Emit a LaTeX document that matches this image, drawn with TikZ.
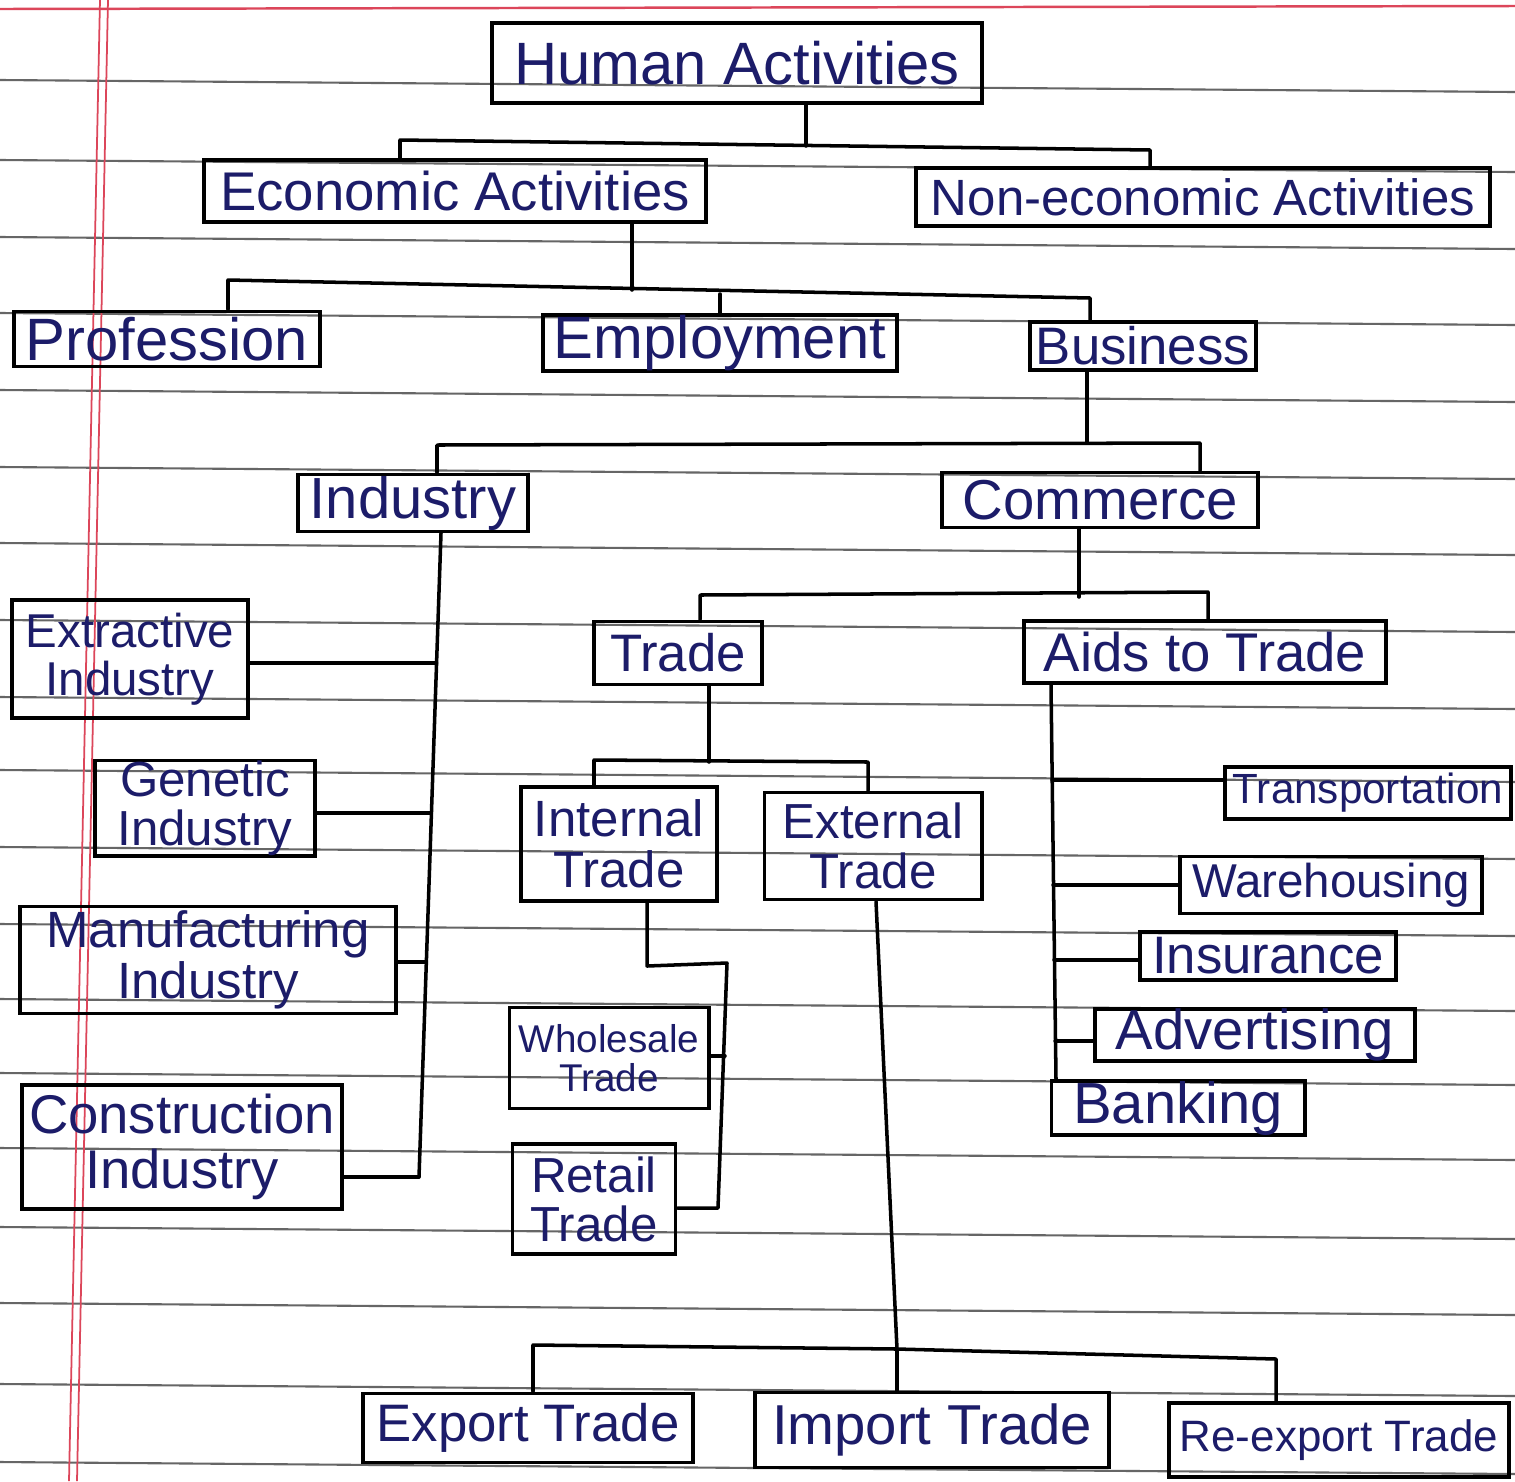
\documentclass[tikz,border=0pt]{standalone}
\usepackage{fontspec}
\setmainfont{Liberation Sans}
\usetikzlibrary{calc}
\definecolor{ink}{RGB}{28,28,105}
\definecolor{marginred}{RGB}{220,70,90}
\newcommand\fsz[1]{\fontsize{#1}{#1}\selectfont}
\begin{document}
\begin{tikzpicture}[x=0.01cm,y=-0.01cm,
  bx/.style={draw=black, line width=1.1pt, inner sep=0pt, text=ink, align=center, rectangle},
  cn/.style={draw=black, line width=1pt, line cap=round, line join=round},
  paper/.style={draw=black!60, line width=0.6pt},
  margin/.style={draw=marginred, line width=0.5pt}]
\fill[white] (0,0) rectangle (1515,1481);
\useasboundingbox (0,0) rectangle (1515,1481);
% lined paper
\foreach \yy in {80,160,237,313,390,467,543,620,697,770,847,924,999,1073,1148,1227,1303,1384,1462}
  \draw[paper] (0,\yy) -- (1515,\yy+12);
\draw[margin, line width=0.7pt] (0,9) -- (1515,6);
\draw[margin] (100,0) -- (69,1481);
\draw[margin] (108,0) -- (77,1481);

% nodes
\node[bx, minimum width=4.90cm, minimum height=0.80cm, font=\fsz{17}] (ha) at (737,63) {Human Activities};
\node[bx, minimum width=5.01cm, minimum height=0.62cm, font=\fsz{15.5}] (eco) at (455,191) {Economic Activities};
\node[bx, minimum width=5.74cm, minimum height=0.58cm, font=\fsz{14.5}] (neco) at (1203,197) {Non-economic Activities};
\node[bx, minimum width=3.06cm, minimum height=0.55cm, font=\fsz{17}] (prof) at (167,339) {Profession};
\node[bx, minimum width=3.54cm, minimum height=0.52cm, font=\fsz{17}] (emp) at (720,343) {Employment};
\node[bx, minimum width=2.26cm, minimum height=0.48cm, font=\fsz{15}] (bus) at (1143,346) {Business};
\node[bx, minimum width=2.30cm, minimum height=0.57cm, font=\fsz{16.5}] (ind) at (413,503) {Industry};
\node[bx, minimum width=3.15cm, minimum height=0.55cm, font=\fsz{16}] (com) at (1100,500) {Commerce};
\node[bx, minimum width=2.35cm, minimum height=1.18cm, font=\fsz{13.5}] (exi) at (130,659) {Extractive\\Industry};
\node[bx, minimum width=2.20cm, minimum height=0.95cm, font=\fsz{14}] (gen) at (205,808) {Genetic\\Industry};
\node[bx, minimum width=3.75cm, minimum height=1.07cm, font=\fsz{14.5}] (man) at (208,960) {Manufacturing\\Industry};
\node[bx, minimum width=3.19cm, minimum height=1.24cm, font=\fsz{15.5}] (con) at (182,1147) {Construction\\Industry};
\node[bx, minimum width=1.68cm, minimum height=0.63cm, font=\fsz{15}] (trade) at (678,653) {Trade};
\node[bx, minimum width=3.61cm, minimum height=0.62cm, font=\fsz{15.5}] (aids) at (1205,652) {Aids to Trade};
\node[bx, minimum width=1.96cm, minimum height=1.14cm, font=\fsz{14.5}] (int) at (619,844) {Internal\\Trade};
\node[bx, minimum width=2.17cm, minimum height=1.07cm, font=\fsz{14}] (ext) at (873,846) {External\\Trade};
\node[bx, minimum width=1.99cm, minimum height=1.01cm, font=\fsz{11}] (whl) at (609,1058) {Wholesale\\Trade};
\node[bx, minimum width=1.63cm, minimum height=1.10cm, font=\fsz{14}] (ret) at (594,1199) {Retail\\Trade};
\node[bx, minimum width=2.86cm, minimum height=0.52cm, font=\fsz{12}] (trn) at (1368,793) {Transportation};
\node[bx, minimum width=3.01cm, minimum height=0.57cm, font=\fsz{13.5}] (war) at (1331,885) {Warehousing};
\node[bx, minimum width=2.56cm, minimum height=0.48cm, font=\fsz{15}] (ins) at (1268,956) {Insurance};
\node[bx, minimum width=3.20cm, minimum height=0.50cm, font=\fsz{16}] (adv) at (1255,1035) {Advertising};
\node[bx, minimum width=2.53cm, minimum height=0.54cm, font=\fsz{16.5}] (ban) at (1178,1108) {Banking};
\node[bx, minimum width=3.29cm, minimum height=0.69cm, font=\fsz{15}] (exp) at (528,1428) {Export Trade};
\node[bx, minimum width=3.54cm, minimum height=0.75cm, font=\fsz{16}] (imp) at (932,1430) {Import Trade};
\node[bx, minimum width=3.40cm, minimum height=0.74cm, font=\fsz{12.5}] (rex) at (1339,1440) {Re-export Trade};

% Human Activities
\coordinate (hA) at (806,146);
\coordinate (eL) at (400,140);
\coordinate (nR) at (1150,150);
\draw[cn] (ha.south -| hA) -- (hA);
\draw[cn] (eco.north -| eL) -- (eL) -- (nR) -- (neco.north -| nR);

% Economic Activities
\coordinate (eB) at (632,290);
\coordinate (pL) at (228,280);
\coordinate (bR) at (1090,298);
\coordinate (mE) at (720,294);
\draw[cn] (eco.south -| eB) -- (eB);
\draw[cn] (prof.north -| pL) -- (pL) -- (bR) -- (bus.north -| bR);
\draw[cn] (mE) -- (emp.north -| mE);

% Business
\coordinate (bB) at (1087,443);
\coordinate (iL) at (437,445);
\coordinate (cR) at (1200,443);
\draw[cn] (bus.south -| bB) -- (bB);
\draw[cn] (ind.north -| iL) -- (iL) -- (cR) -- (com.north -| cR);

% Industry
\coordinate (iT) at (441,532);
\coordinate (iB) at (419,1177);
\coordinate (k1) at (436.5,663);
\coordinate (k2) at (431.4,813);
\coordinate (k3) at (426.3,962);
\draw[cn] (ind.south -| iT) -- (iB);
\draw[cn] (exi.east |- k1) -- (k1);
\draw[cn] (gen.east |- k2) -- (k2);
\draw[cn] (man.east |- k3) -- (k3);
\draw[cn] (con.east |- iB) -- (iB);

% Commerce
\coordinate (cB) at (1079,597);
\coordinate (tL) at (700,595);
\coordinate (aR) at (1208,592);
\draw[cn] (com.south -| cB) -- (cB);
\draw[cn] (trade.north -| tL) -- (tL) -- (aR) -- (aids.north -| aR);

% Trade
\coordinate (tB) at (709,762);
\coordinate (nL) at (594,760);
\coordinate (xR) at (868,762);
\draw[cn] (trade.south -| tB) -- (tB);
\draw[cn] (int.north -| nL) -- (nL) -- (xR) -- (ext.north -| xR);

% Internal Trade
\coordinate (w1) at (647,966);
\coordinate (w2) at (727,963);
\coordinate (w3) at (718,1208);
\coordinate (wj) at (725,1056);
\draw[cn] (int.south -| w1) -- (w1) -- (w2) -- (w3) -- (ret.east |- w3);
\draw[cn] (whl.east |- wj) -- (wj);

% External Trade
\coordinate (eT) at (876,0);
\coordinate (xB) at (897,1349);
\coordinate (xL) at (533,1345);
\coordinate (xR2) at (1276,1359);
\draw[cn] (ext.south -| eT) -- (xB);
\draw[cn] (exp.north -| xL) -- (xL) -- (xB) -- (xR2) -- (rex.north -| xR2);
\draw[cn] (xB) -- (imp.north -| xB);

% Aids to Trade
\coordinate (aT) at (1051,0);
\coordinate (aB) at (1056,0);
\coordinate (m1) at (1052,780);
\coordinate (m2) at (1053,885);
\coordinate (m3) at (1054,960);
\coordinate (m4) at (1055,1041);
\draw[cn] (aids.south -| aT) -- (ban.north -| aB);
\draw[cn] (m1) -- (trn.west |- m1);
\draw[cn] (m2) -- (war.west |- m2);
\draw[cn] (m3) -- (ins.west |- m3);
\draw[cn] (m4) -- (adv.west |- m4);
\end{tikzpicture}
\end{document}
